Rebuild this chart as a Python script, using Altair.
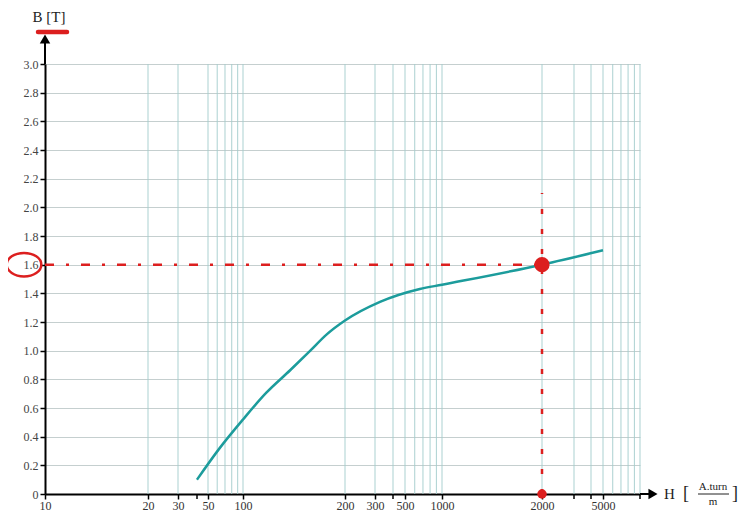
import altair as alt
import pandas as pd

# --- data ---
H_curve = [40, 63, 100, 117, 138, 158, 176, 200, 325, 660, 1000, 2000, 5000]
B_curve = [0.10, 0.32, 0.52, 0.705, 0.865, 1.00, 1.11, 1.21, 1.34, 1.43, 1.46, 1.60, 1.70]

x_tick_values = [10, 20, 30, 50, 100, 200, 300, 500, 1000, 2000, 5000]
x_minor_ticks = [40, 400, 3000, 4000, 10000]
y_tick_values = [0, 0.2, 0.4, 0.6, 0.8, 1.0, 1.2, 1.4, 1.6, 1.8, 2.0, 2.2, 2.4, 2.6, 2.8, 3.0]
grid_h = [20, 30, 50, 60, 70, 80, 90, 100, 200, 300, 400, 500, 600, 700, 800,
          900, 1000, 2000, 3000, 4000, 5000, 6000, 7000, 8000, 9000, 10000]

# the reference's hand-drawn H axis is not a clean log axis: piecewise log scale
scale_domain = [10, 20, 30, 40, 50, 100, 200, 300, 400, 500, 1000, 2000, 3000, 4000, 5000, 10000]
scale_range = [0, 103, 133, 152, 163, 198, 300, 330, 348, 360, 397, 497, 529, 546, 558, 595]

op_H = [2000]
op_B = [1.6]
h_line_H = [10, 2000]
h_line_B = [1.6, 1.6]
v_line_H = [2000, 2000]
v_line_B = [0.0, 2.1]

W, HT = 595, 430
SERIF = "Liberation Serif"
RED = "#dc1f1f"
TEAL = "#1c9c9c"

x_scale = alt.Scale(type="log", domain=scale_domain, range=scale_range, nice=False)
y_scale = alt.Scale(domain=[0, 3], nice=False)

x_axis = alt.Axis(values=x_tick_values, format="d", grid=False, title=None,
                  domainColor="black", domainWidth=2, tickColor="black", tickSize=5,
                  tickWidth=1.5, labelFont=SERIF, labelFontSize=12, labelColor="#333",
                  labelPadding=1, labelFlush=False, labelOverlap=False)
y_axis = alt.Axis(values=y_tick_values,
                  labelExpr="datum.value == 0 ? '0' : format(datum.value, '.1f')",
                  grid=True, gridColor="#c5cfcf", gridWidth=1, title=None,
                  domainColor="black", domainWidth=2, tickColor="black", tickSize=5,
                  tickWidth=1.5, labelFont=SERIF, labelFontSize=12, labelColor="#444",
                  labelPadding=2)


def X():
    return alt.X("H:Q", scale=x_scale, axis=x_axis)


def Y():
    return alt.Y("B:Q", scale=y_scale, axis=y_axis)


grid_v = alt.Chart(pd.DataFrame({"H": grid_h})).mark_rule(
    color="#a2cccc", strokeWidth=1, opacity=0.9).encode(
    x=X(), y=alt.value(0), y2=alt.value(HT))

minor_ticks = alt.Chart(pd.DataFrame({"H": x_minor_ticks})).mark_rule(
    color="black", strokeWidth=1.5).encode(
    x=X(), y=alt.value(HT), y2=alt.value(HT + 5))

curve = alt.Chart(pd.DataFrame({"H": H_curve, "B": B_curve})).mark_line(
    color=TEAL, strokeWidth=2.5, interpolate="monotone").encode(x=X(), y=Y())

hline = alt.Chart(pd.DataFrame({"H": h_line_H, "B": h_line_B})).mark_line(
    color=RED, strokeWidth=2.5, strokeDash=[9, 12, 3, 12]).encode(x=X(), y=Y())

vline = alt.Chart(pd.DataFrame({"H": v_line_H, "B": v_line_B})).mark_line(
    color=RED, strokeWidth=2.5, strokeDash=[5, 15]).encode(x=X(), y=Y())

op_df = pd.DataFrame({"H": op_H, "B": op_B})
dot = alt.Chart(op_df).mark_circle(color=RED, size=230, opacity=1).encode(x=X(), y=Y())

base_dot = alt.Chart(pd.DataFrame({"H": op_H, "B": [0.0]})).mark_circle(
    color=RED, size=90, opacity=1).encode(x=X(), y=Y())

ellipse_path = "M -1 0 A 1 0.68 0 1 0 1 0 A 1 0.68 0 1 0 -1 0 Z"
ellipse = alt.Chart(op_df).mark_point(shape=ellipse_path, filled=False, color=RED,
                                      strokeWidth=2.5, size=1200, opacity=1).encode(
    x=alt.value(-21), y=Y())

# axis arrows
y_arrow_line = alt.Chart().mark_rule(color="black", strokeWidth=2).encode(
    x=alt.value(0), y=alt.value(-26), y2=alt.value(0))
y_arrow_head = alt.Chart().mark_point(shape="triangle-up", filled=True, color="black",
                                      size=110, opacity=1).encode(
    x=alt.value(0), y=alt.value(-25))
x_arrow_line = alt.Chart().mark_rule(color="black", strokeWidth=2).encode(
    x=alt.value(W), x2=alt.value(W + 12), y=alt.value(HT))
x_arrow_head = alt.Chart().mark_point(shape="triangle-right", filled=True, color="black",
                                      size=110, opacity=1).encode(
    x=alt.value(W + 13), y=alt.value(HT))

# titles
b_title = alt.Chart().mark_text(text="B [T]", font=SERIF, fontSize=15, color="#222").encode(
    x=alt.value(4), y=alt.value(-47))
b_under = alt.Chart().mark_rule(color=RED, strokeWidth=4.5, strokeCap="round").encode(
    x=alt.value(-7), x2=alt.value(22), y=alt.value(-32))

h_title = alt.Chart().mark_text(text="H", font=SERIF, fontSize=15, color="#222",
                                align="left").encode(x=alt.value(619), y=alt.value(HT))
h_lbr = alt.Chart().mark_text(text="[", font=SERIF, fontSize=18, color="#222").encode(
    x=alt.value(641), y=alt.value(HT))
h_num = alt.Chart().mark_text(text="A.turn", font=SERIF, fontSize=11, color="#222").encode(
    x=alt.value(668), y=alt.value(HT - 7))
h_bar = alt.Chart().mark_rule(color="#222", strokeWidth=1).encode(
    x=alt.value(653), x2=alt.value(684), y=alt.value(HT))
h_den = alt.Chart().mark_text(text="m", font=SERIF, fontSize=11, color="#222").encode(
    x=alt.value(668), y=alt.value(HT + 8))
h_rbr = alt.Chart().mark_text(text="]", font=SERIF, fontSize=18, color="#222").encode(
    x=alt.value(690), y=alt.value(HT))

chart = alt.layer(
    grid_v, minor_ticks, curve, hline, vline, base_dot, dot, ellipse,
    y_arrow_line, y_arrow_head, x_arrow_line, x_arrow_head,
    b_title, b_under, h_title, h_lbr, h_num, h_bar, h_den, h_rbr
).properties(
    width=W, height=HT, autosize="none",
    padding={"left": 37, "top": 56, "right": 98, "bottom": 17},
    background="white"
).configure_view(stroke=None)

chart.save("out.html", embed_options={"renderer": "svg", "actions": False})
